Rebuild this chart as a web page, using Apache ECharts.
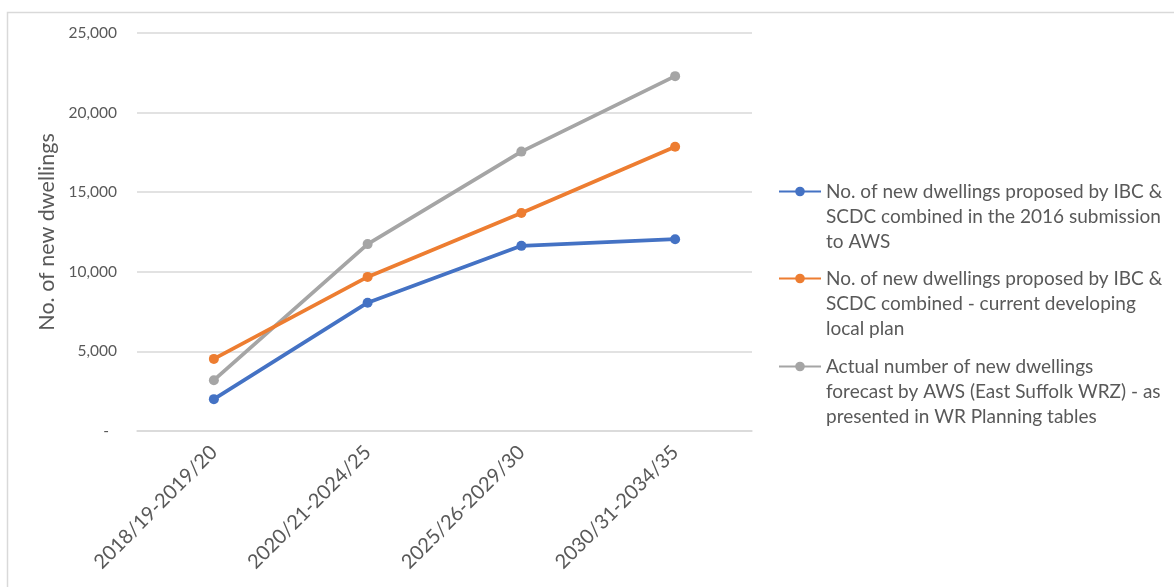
<!DOCTYPE html>
<html>
<head>
<meta charset="utf-8">
<script src="https://cdn.jsdelivr.net/npm/echarts@6/dist/echarts.min.js"></script>
<style>
  html, body { margin: 0; padding: 0; background: #fff; }
  #chart { width: 1174px; height: 587px; }
</style>
</head>
<body>
<div id="chart"></div>
<script>
// Periods on the category axis
const periods = ['2018/19-2019/20', '2020/21-2024/25', '2025/26-2029/30', '2030/31-2034/35'];

// Series names (full) and their wrapped legend text
const seriesNames = [
  'No. of new dwellings proposed by IBC & SCDC combined in the 2016 submission to AWS',
  'No. of new dwellings proposed by IBC & SCDC combined - current developing local plan',
  'Actual number of new dwellings forecast by AWS (East Suffolk WRZ) - as presented in WR Planning tables'
];
const legendLines = [
  ['No. of new dwellings proposed by IBC &', 'SCDC combined in the 2016 submission', 'to AWS'],
  ['No. of new dwellings proposed by IBC &', 'SCDC combined - current developing', 'local plan'],
  ['Actual number of new dwellings', 'forecast by AWS (East Suffolk WRZ) - as', 'presented in WR Planning tables']
];

// New dwellings per period
const submission2016 = [2000, 8060, 11630, 12050];
const currentLocalPlan = [4530, 9680, 13690, 17850];
const awsForecast = [3190, 11740, 17550, 22290];

const colors = ['#4472C4', '#ED7D31', '#A5A5A5'];
const FONT = 'Lato, "Open Sans", sans-serif';
const TEXT = '#595959';

const chart = echarts.init(document.getElementById('chart'));

function lineSeries(i, data) {
  return {
    name: seriesNames[i],
    type: 'line',
    data: data,
    symbol: 'circle',
    symbolSize: 10,
    itemStyle: { color: colors[i] },
    lineStyle: { color: colors[i], width: 3.75 },
    emphasis: { disabled: true },
    animation: false,
    z: 10 - i
  };
}

// One legend block per series; the text is centred on the icon, so two blank
// lines in front put the icon beside the first visible line.
const legendTops = [129, 216, 304];
const legends = seriesNames.map((name, i) => ({
  data: [name],
  left: 778,
  top: legendTops[i],
  orient: 'vertical',
  padding: 0,
  itemWidth: 42,
  itemHeight: 12,
  itemGap: 0,
  selectedMode: false,
  formatter: () => '\n\n' + legendLines[i].join('\n'),
  textStyle: {
    fontFamily: FONT,
    fontSize: 19,
    color: TEXT,
    lineHeight: 25
  }
}));

chart.setOption({
  backgroundColor: '#ffffff',
  animation: false,
  color: colors,
  graphic: [{
    type: 'rect',
    silent: true,
    shape: { x: 7.5, y: 12.5, width: 1300, height: 700 },
    style: { fill: 'none', stroke: '#d9d9d9', lineWidth: 1.5 }
  }],
  legend: legends,
  grid: { left: 137, right: 422, top: 33, bottom: 156, containLabel: false },
  xAxis: {
    type: 'category',
    data: periods,
    boundaryGap: true,
    axisLine: { show: true, lineStyle: { color: '#d9d9d9', width: 1.5 } },
    axisTick: { show: false },
    axisLabel: {
      rotate: 45,
      margin: 18,
      fontFamily: FONT,
      fontSize: 20,
      color: TEXT
    }
  },
  yAxis: {
    type: 'value',
    min: 0,
    max: 25000,
    interval: 5000,
    name: 'No. of new dwellings',
    nameLocation: 'middle',
    nameRotate: 90,
    nameGap: 76,
    nameTextStyle: { fontFamily: FONT, fontSize: 21.5, color: TEXT },
    axisLine: { show: false },
    axisTick: { show: false },
    splitLine: { lineStyle: { color: '#d9d9d9', width: 1.5 } },
    axisLabel: {
      margin: 20,
      fontFamily: FONT,
      fontSize: 15.5,
      color: TEXT,
      formatter: v => v === 0 ? '-  ' : v.toLocaleString('en-GB')
    }
  },
  series: [
    lineSeries(0, submission2016),
    lineSeries(1, currentLocalPlan),
    lineSeries(2, awsForecast)
  ]
});
</script>
</body>
</html>
